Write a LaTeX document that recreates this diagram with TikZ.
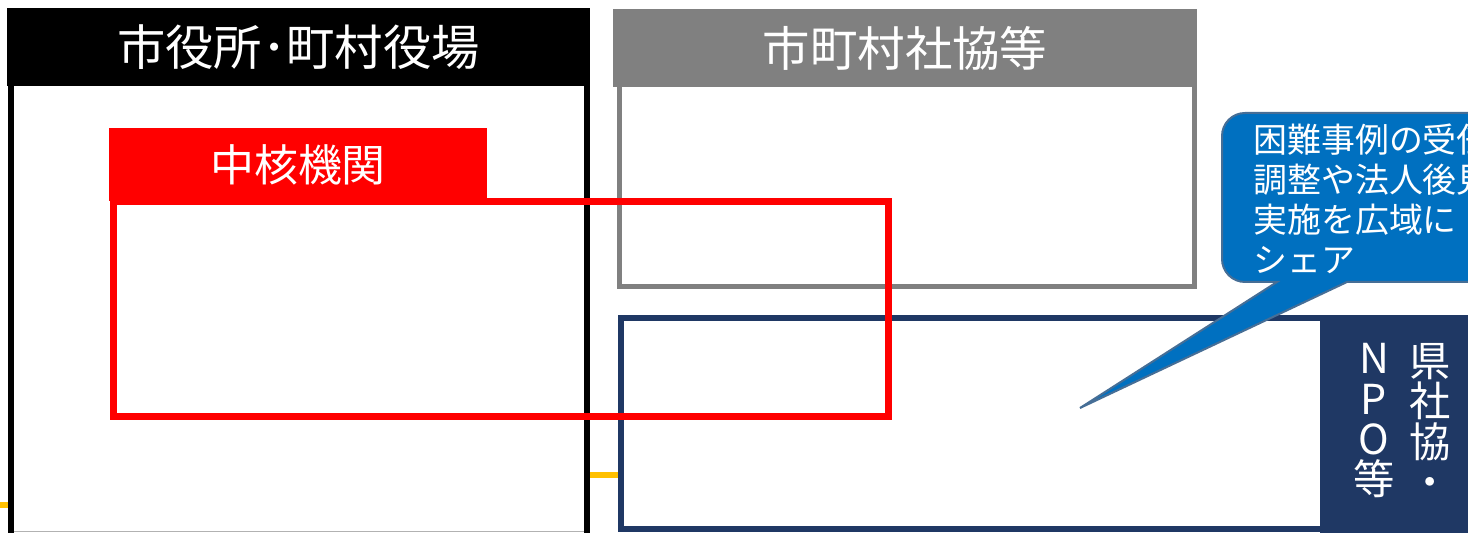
\documentclass[tikz,border=0pt]{standalone}
\usepackage{fontspec}
\setmainfont{Noto Sans CJK JP}
\definecolor{navy}{RGB}{31,56,100}
\definecolor{callblue}{RGB}{0,112,192}
\definecolor{calledge}{RGB}{70,110,150}
\definecolor{gold}{RGB}{255,192,0}
\definecolor{midgray}{RGB}{128,128,128}
\definecolor{red0}{RGB}{255,0,0}
\tikzset{
  hdrbox/.style={inner sep=0pt, text=white, font=\fontsize{27.5}{30}\selectfont},
  calltext/.style={inner sep=0pt, text=white, align=left, anchor=north west, font=\fontsize{19.3}{22.6}\selectfont},
  verttext/.style={inner sep=0pt, text=white, align=center, anchor=north, font=\fontsize{23.5}{23}\selectfont},
  link/.style={draw=gold, line width=0.12cm},
}
\begin{document}
\begin{tikzpicture}[x=0.02cm,y=-0.02cm]
\useasboundingbox (0,0) rectangle (1468,533);
\clip (0,0) rectangle (1468,533);
% city office
\node[hdrbox, fill=black, minimum width=583*0.02cm, minimum height=78*0.02cm] (cityhdr) at (298.5,47) {市役所･町村役場};
\draw[black, line width=0.12cm] (11,86) -- (11,540) (587,86) -- (587,540);
\draw[gray!60, line width=0.02cm] (14,532) -- (584,532);
\coordinate (cityR) at (590,475);
\coordinate (cityL) at (8,505);
\coordinate (edgeL) at (0,505);
% municipal council
\node[hdrbox, font=\fontsize{27}{30}\selectfont, fill=midgray, minimum width=584*0.02cm, minimum height=78*0.02cm] (muniHdr) at (905,48) {市町村社協等};
\draw[midgray, line width=0.1cm] (619.5,86) -- (619.5,286.5) -- (1194.5,286.5) -- (1194.5,86);
% navy box
\draw[navy, line width=0.11cm] (1330,318) -- (621,318) -- (621,529) -- (1330,529);
\node[fill=navy, minimum width=150*0.02cm, minimum height=220*0.02cm, inner sep=0pt, anchor=north west] (pref) at (1320,315) {};
\node[verttext] (prefA) at (1430,343) {県\\社\\協\\・};
\node[verttext] (prefB) at (1374,343) {N\\P\\O\\等};
\coordinate (navyL) at (618,475);
% links
\draw[link] (cityR) -- (navyL);
\draw[link] (edgeL) -- (cityL);
% core agency
\node[hdrbox, font=\fontsize{25}{30}\selectfont, fill=red0, minimum width=378*0.02cm, minimum height=73*0.02cm] (coreHdr) at (298,164.5) {中核機関};
\draw[red0, line width=0.14cm] (113,202) rectangle (888,416.5);
% callout
\coordinate (tip) at (1080,408);
\filldraw[fill=callblue, draw=calledge, line width=0.04cm]
  (1600,113) -- (1245,113) arc[start angle=90, end angle=180, radius=0.46cm]
  -- (1222,259) arc[start angle=180, end angle=270, radius=0.46cm]
  -- (1277,282) -- (tip) -- (1347,282) -- (1600,282) -- cycle;
\node[calltext] (callout) at (1253,124) {困難事例の受任\\調整や法人後見\\実施を広域に\\シェア};
\end{tikzpicture}
\end{document}
